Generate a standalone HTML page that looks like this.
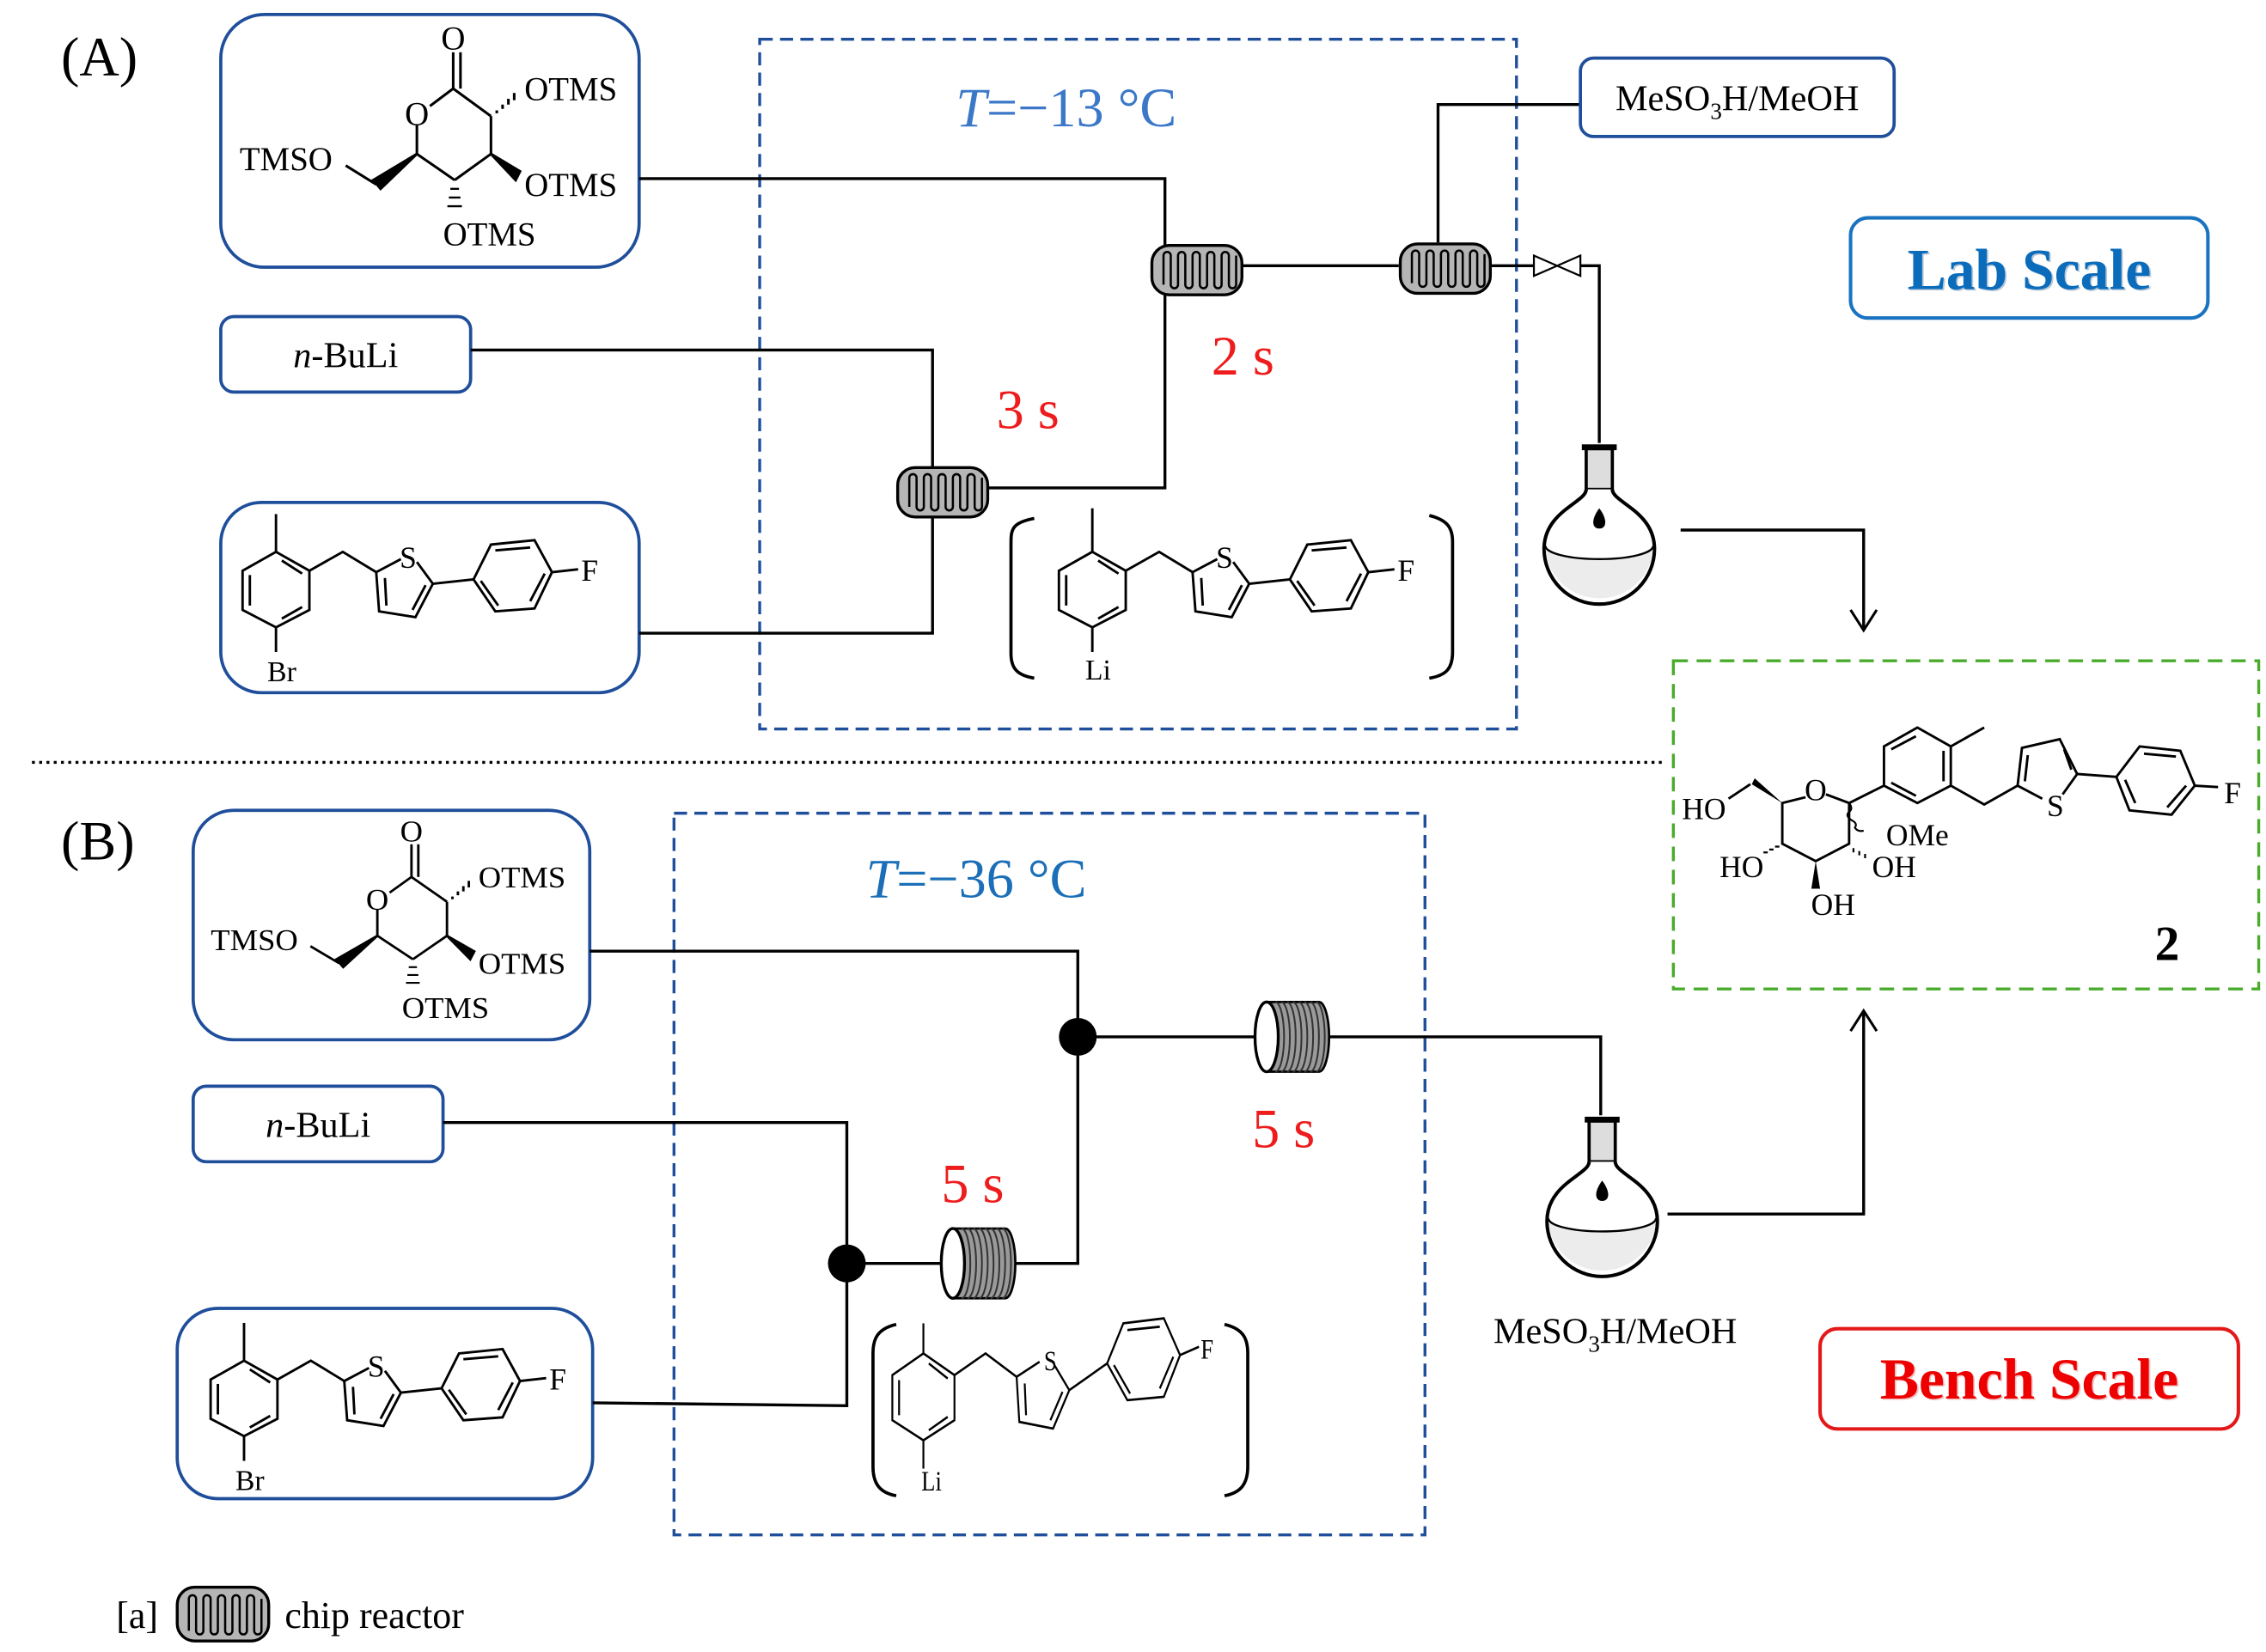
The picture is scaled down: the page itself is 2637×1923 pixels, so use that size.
<!DOCTYPE html>
<html><head><meta charset="utf-8"><style>
html,body{margin:0;padding:0;background:#fff}
svg{display:block}
text{font-family:"Liberation Serif",serif}
</style></head><body>
<svg width="2637" height="1923" viewBox="0 0 1560 1137.6" xmlns="http://www.w3.org/2000/svg">
<rect width="1560" height="1138" fill="#fff"/>

<text x="42" y="52" font-size="38">(A)</text>
<rect x="523" y="27" width="521" height="475" fill="none" stroke="#1f4e9b" stroke-width="2" stroke-dasharray="9 5"/>
<text x="658" y="87" font-size="38" fill="#3b78c8"><tspan font-style="italic">T</tspan>=−13 °C</text>

<rect x="152" y="10" width="288" height="174" rx="30" fill="none" stroke="#1f4e9b" stroke-width="2.2"/>
<g stroke="#000" stroke-width="1.8" fill="none">
  <line x1="312" y1="61" x2="312" y2="36"/><line x1="317" y1="61" x2="317" y2="36"/>
  <line x1="312" y1="61" x2="296" y2="73"/>
  <line x1="312" y1="61" x2="338" y2="80"/>
  <line x1="338" y1="80" x2="338" y2="106"/>
  <line x1="338" y1="106" x2="313" y2="124"/>
  <line x1="313" y1="124" x2="287" y2="106"/>
  <line x1="287" y1="106" x2="287" y2="86"/>
  <line x1="259" y1="127" x2="238" y2="114"/>
  <polygon points="287,106 262,130 257,124" fill="#000"/>
  <polygon points="338,106 358,118 355,124" fill="#000"/>
  <path d="M342,78 v-2 M346,75 v-3 M350,72 v-4 M354,69 v-5" />
  <path d="M310,130 h6 M309,136 h8 M308,142 h10" stroke-width="1.4"/>
</g>
<g font-size="23">
<text x="312" y="34" text-anchor="middle">O</text>
<text x="287" y="86" text-anchor="middle">O</text>
<text x="165" y="117">TMSO</text>
<text x="361" y="69">OTMS</text>
<text x="361" y="135">OTMS</text>
<text x="305" y="169">OTMS</text>
</g>

<rect x="152" y="218" width="172" height="52" rx="9" fill="none" stroke="#1f4e9b" stroke-width="2.2"/>
<text x="238" y="253" font-size="25" text-anchor="middle"><tspan font-style="italic">n</tspan>-BuLi</text>

<rect x="152" y="346" width="288" height="131" rx="28" fill="none" stroke="#1f4e9b" stroke-width="2.2"/>
<g>
 <g stroke="#000" stroke-width="1.7" fill="none">
  <polygon points="190,380 213,393 213,420 190,432 167,420 167,393"/>
  <line x1="194" y1="386" x2="208" y2="395"/><line x1="208" y1="418" x2="194" y2="426"/><line x1="172" y1="396" x2="172" y2="417"/>
  <line x1="190" y1="380" x2="190" y2="354"/>
  <line x1="190" y1="432" x2="190" y2="449"/>
  <polyline points="213,393 236,380 259,394"/>
  <polyline points="276,385 259,394 261,421 286,425 298,402 287,387"/>
  <line x1="265" y1="398" x2="266" y2="417"/><line x1="284" y1="420" x2="293" y2="403"/>
  <polygon points="326,399 338,375 368,372 380,394 368,419 341,421"/>
  <line x1="341" y1="379" x2="365" y2="377"/><line x1="375" y1="395" x2="365" y2="414"/><line x1="331" y1="400" x2="343" y2="417"/>
  <line x1="298" y1="402" x2="326" y2="399"/>
  <line x1="380" y1="394" x2="398" y2="392"/>
 </g>
 <text x="281" y="391" font-size="21" text-anchor="middle">S</text>
 <text x="406" y="400" font-size="21" text-anchor="middle">F</text>
</g>
<text x="194" y="469" font-size="20" text-anchor="middle">Br</text>

<g stroke="#000" stroke-width="2" fill="none">
 <polyline points="440,123 802,123 802,170"/>
 <polyline points="324,241 642,241 642,322"/>
 <polyline points="440,436 642,436 642,356"/>
 <polyline points="680,336 802,336 802,202"/>
 <line x1="855" y1="183" x2="963" y2="183"/>
 <polyline points="990,167 990,72 1088,72"/>
 <line x1="1027" y1="183" x2="1056" y2="183"/>
 <polyline points="1088,183 1101,183 1101,305"/>
 <polyline points="1157,365 1283,365 1283,433"/>
 <polyline points="1274,420 1283,434 1292,420" stroke-width="1.8"/>
</g>
<g stroke="#000" stroke-width="1.3" fill="#fff">
 <polygon points="1056,176 1072,183 1056,190"/>
 <polygon points="1088,176 1072,183 1088,190"/>
</g>

<g transform="translate(618,322)">
 <rect x="0" y="0" width="62" height="34" rx="12" fill="#b5b5b5" stroke="#000" stroke-width="2"/>
 <path d="M8,27 v-20 a2.5,2.5 0 0 1 5,0 v20 a2.5,2.5 0 0 0 5,0 v-20 a2.5,2.5 0 0 1 5,0 v20 a2.5,2.5 0 0 0 5,0 v-20 a2.5,2.5 0 0 1 5,0 v20 a2.5,2.5 0 0 0 5,0 v-20 a2.5,2.5 0 0 1 5,0 v20 a2.5,2.5 0 0 0 5,0 v-20 a2.5,2.5 0 0 1 5,0 v20 a2.5,2.5 0 0 0 5,0 v-20" fill="none" stroke="#000" stroke-width="1.5"/>
</g>
<g transform="translate(793,169)">
 <rect x="0" y="0" width="62" height="34" rx="12" fill="#b5b5b5" stroke="#000" stroke-width="2"/>
 <path d="M8,27 v-20 a2.5,2.5 0 0 1 5,0 v20 a2.5,2.5 0 0 0 5,0 v-20 a2.5,2.5 0 0 1 5,0 v20 a2.5,2.5 0 0 0 5,0 v-20 a2.5,2.5 0 0 1 5,0 v20 a2.5,2.5 0 0 0 5,0 v-20 a2.5,2.5 0 0 1 5,0 v20 a2.5,2.5 0 0 0 5,0 v-20 a2.5,2.5 0 0 1 5,0 v20 a2.5,2.5 0 0 0 5,0 v-20" fill="none" stroke="#000" stroke-width="1.5"/>
</g>
<g transform="translate(964,168)">
 <rect x="0" y="0" width="62" height="34" rx="12" fill="#b5b5b5" stroke="#000" stroke-width="2"/>
 <path d="M8,27 v-20 a2.5,2.5 0 0 1 5,0 v20 a2.5,2.5 0 0 0 5,0 v-20 a2.5,2.5 0 0 1 5,0 v20 a2.5,2.5 0 0 0 5,0 v-20 a2.5,2.5 0 0 1 5,0 v20 a2.5,2.5 0 0 0 5,0 v-20 a2.5,2.5 0 0 1 5,0 v20 a2.5,2.5 0 0 0 5,0 v-20 a2.5,2.5 0 0 1 5,0 v20 a2.5,2.5 0 0 0 5,0 v-20" fill="none" stroke="#000" stroke-width="1.5"/>
</g>

<text x="686" y="295" font-size="38" fill="#ee1c1c">3 s</text>
<text x="834" y="258" font-size="38" fill="#ee1c1c">2 s</text>

<rect x="1088" y="40" width="216" height="54" rx="9" fill="none" stroke="#1f4e9b" stroke-width="2.2"/>
<text x="1196" y="76" font-size="25" text-anchor="middle">MeSO<tspan font-size="16" dy="6">3</tspan><tspan dy="-6">H/MeOH</tspan></text>

<rect x="1274" y="150" width="246" height="69" rx="12" fill="none" stroke="#1a73c0" stroke-width="2.4"/>
<text x="1398" y="200" font-size="40" font-weight="bold" fill="#b8c8d8" text-anchor="middle">Lab Scale</text>
<text x="1397" y="199" font-size="40" font-weight="bold" fill="#0b6cbb" text-anchor="middle">Lab Scale</text>

<g transform="translate(1101,370)">
 <rect x="-12" y="-64" width="24" height="4" fill="#000"/>
 <rect x="-9" y="-61" width="18" height="28" fill="#ddd" stroke="#000" stroke-width="2.2"/>
 <path d="M-9,-33 C-9,-24 -38,-18 -38,8 A38,38 0 0 0 38,8 C38,-18 9,-24 9,-33" fill="#fff" stroke="#000" stroke-width="2.4"/>
 <path d="M-37,6 A37,9 0 0 0 37,6 A37,36 0 0 1 -37,6Z" fill="#ececec"/>
 <path d="M-37,6 A37,9 0 0 0 37,6" fill="none" stroke="#000" stroke-width="1.4"/>
 <path d="M0,-20 C-6,-12 -5,-6 0,-6 C5,-6 6,-12 0,-20Z" fill="#000"/>
</g>

<g transform="translate(562,0)">
 <g stroke="#000" stroke-width="1.7" fill="none">
  <polygon points="190,380 213,393 213,420 190,432 167,420 167,393"/>
  <line x1="194" y1="386" x2="208" y2="395"/><line x1="208" y1="418" x2="194" y2="426"/><line x1="172" y1="396" x2="172" y2="417"/>
  <line x1="190" y1="380" x2="190" y2="350"/>
  <line x1="190" y1="432" x2="190" y2="449"/>
  <polyline points="213,393 236,380 259,394"/>
  <polyline points="276,385 259,394 261,421 286,425 298,402 287,387"/>
  <line x1="265" y1="398" x2="266" y2="417"/><line x1="284" y1="420" x2="293" y2="403"/>
  <polygon points="326,399 338,375 368,372 380,394 368,419 341,421"/>
  <line x1="341" y1="379" x2="365" y2="377"/><line x1="375" y1="395" x2="365" y2="414"/><line x1="331" y1="400" x2="343" y2="417"/>
  <line x1="298" y1="402" x2="326" y2="399"/>
  <line x1="380" y1="394" x2="398" y2="392"/>
 </g>
 <text x="281" y="391" font-size="21" text-anchor="middle">S</text>
 <text x="406" y="400" font-size="21" text-anchor="middle">F</text>
 <text x="194" y="468" font-size="20" text-anchor="middle">Li</text>
</g>
<path d="M712,357 C696,360 696,365 696,375 V450 C696,460 700,465 712,467" fill="none" stroke="#000" stroke-width="2.2"/>
<path d="M984,355 C996,358 1000,363 1000,373 V449 C1000,460 996,465 984,467" fill="none" stroke="#000" stroke-width="2.2"/>

<line x1="22" y1="525" x2="1145" y2="525" stroke="#000" stroke-width="2" stroke-dasharray="2 3"/>

<rect x="1152" y="455" width="403" height="226" fill="none" stroke="#4aab2c" stroke-width="2" stroke-dasharray="10 6"/>
<g stroke="#000" stroke-width="1.7" fill="none">
 <polyline points="1243,549 1227,553 1227,581 1250,593 1273,581 1273,553 1257,547"/>
 <line x1="1273" y1="553" x2="1297" y2="541"/>
 <polygon points="1297,541 1297,514 1320,501 1343,514 1343,541 1320,553"/>
 <line x1="1302" y1="516" x2="1319" y2="507"/><line x1="1338" y1="517" x2="1338" y2="538"/><line x1="1302" y1="539" x2="1319" y2="548"/>
 <line x1="1343" y1="514" x2="1366" y2="501"/>
 <polyline points="1343,541 1366,554 1389,541"/>
 <polyline points="1406,550 1389,541 1392,515 1418,509 1430,533 1420,547"/>
 <line x1="1396" y1="520" x2="1394" y2="538"/><line x1="1421" y1="516" x2="1426" y2="530"/>
 <line x1="1430" y1="533" x2="1457" y2="535"/>
 <polygon points="1457,535 1473,514 1501,517 1511,541 1495,561 1466,558"/>
 <line x1="1476" y1="519" x2="1498" y2="521"/><line x1="1505" y1="541" x2="1492" y2="556"/><line x1="1463" y1="537" x2="1470" y2="553"/>
 <line x1="1511" y1="541" x2="1527" y2="542"/>
 <line x1="1205" y1="540" x2="1190" y2="550"/>
 <path d="M1273,553 q3,4 0,6 q-3,3 2,6 q4,2 2,5 q2,3 6,2" stroke-width="1.3"/>
 <path d="M1225,583 h-3 M1221,585 h-3 M1217,587 h-3" stroke-width="1.3"/>
 <path d="M1276,584 v3 M1280,586 v3 M1284,588 v3" stroke-width="1.3"/>
</g>
<polygon points="1227,553 1206,540 1208,536" fill="#000"/>
<polygon points="1250,593 1253,612 1247,612" fill="#000"/>
<g font-size="21">
 <text x="1250" y="551" text-anchor="middle">O</text>
 <text x="1173" y="564" text-anchor="middle">HO</text>
 <text x="1199" y="604" text-anchor="middle">HO</text>
 <text x="1304" y="604" text-anchor="middle">OH</text>
 <text x="1320" y="582" text-anchor="middle">OMe</text>
 <text x="1262" y="630" text-anchor="middle">OH</text>
 <text x="1415" y="562" text-anchor="middle">S</text>
 <text x="1537" y="553" text-anchor="middle">F</text>
</g>
<text x="1492" y="661" font-size="34" font-weight="bold" text-anchor="middle">2</text>

<text x="42" y="592" font-size="38">(B)</text>
<rect x="464" y="560" width="517" height="497" fill="none" stroke="#1f4e9b" stroke-width="2" stroke-dasharray="9 5"/>
<text x="596" y="618" font-size="38" fill="#1a6fb8"><tspan font-style="italic">T</tspan>=−36 °C</text>

<rect x="133" y="558" width="273" height="158" rx="28" fill="none" stroke="#1f4e9b" stroke-width="2.2"/>
<g transform="translate(-10,549) scale(0.94,0.9)">
<g stroke="#000" stroke-width="1.8" fill="none">
  <line x1="312" y1="61" x2="312" y2="36"/><line x1="317" y1="61" x2="317" y2="36"/>
  <line x1="312" y1="61" x2="296" y2="73"/>
  <line x1="312" y1="61" x2="338" y2="80"/>
  <line x1="338" y1="80" x2="338" y2="106"/>
  <line x1="338" y1="106" x2="313" y2="124"/>
  <line x1="313" y1="124" x2="287" y2="106"/>
  <line x1="287" y1="106" x2="287" y2="86"/>
  <line x1="259" y1="127" x2="238" y2="114"/>
  <polygon points="287,106 262,130 257,124" fill="#000"/>
  <polygon points="338,106 358,118 355,124" fill="#000"/>
  <path d="M342,78 v-2 M346,75 v-3 M350,72 v-4 M354,69 v-5" />
  <path d="M310,130 h6 M309,136 h8 M308,142 h10" stroke-width="1.4"/>
</g>
<g font-size="23">
<text x="312" y="34" text-anchor="middle">O</text>
<text x="287" y="86" text-anchor="middle">O</text>
<text x="165" y="117">TMSO</text>
<text x="361" y="69">OTMS</text>
<text x="361" y="135">OTMS</text>
<text x="305" y="169">OTMS</text>
</g>
</g>

<rect x="133" y="748" width="172" height="52" rx="9" fill="none" stroke="#1f4e9b" stroke-width="2.2"/>
<text x="219" y="783" font-size="25" text-anchor="middle"><tspan font-style="italic">n</tspan>-BuLi</text>

<rect x="122" y="901" width="286" height="131" rx="28" fill="none" stroke="#1f4e9b" stroke-width="2.2"/>
<g transform="translate(-22,557)">
 <g stroke="#000" stroke-width="1.7" fill="none">
  <polygon points="190,380 213,393 213,420 190,432 167,420 167,393"/>
  <line x1="194" y1="386" x2="208" y2="395"/><line x1="208" y1="418" x2="194" y2="426"/><line x1="172" y1="396" x2="172" y2="417"/>
  <line x1="190" y1="380" x2="190" y2="354"/>
  <line x1="190" y1="432" x2="190" y2="449"/>
  <polyline points="213,393 236,380 259,394"/>
  <polyline points="276,385 259,394 261,421 286,425 298,402 287,387"/>
  <line x1="265" y1="398" x2="266" y2="417"/><line x1="284" y1="420" x2="293" y2="403"/>
  <polygon points="326,399 338,375 368,372 380,394 368,419 341,421"/>
  <line x1="341" y1="379" x2="365" y2="377"/><line x1="375" y1="395" x2="365" y2="414"/><line x1="331" y1="400" x2="343" y2="417"/>
  <line x1="298" y1="402" x2="326" y2="399"/>
  <line x1="380" y1="394" x2="398" y2="392"/>
 </g>
 <text x="281" y="391" font-size="21" text-anchor="middle">S</text>
 <text x="406" y="400" font-size="21" text-anchor="middle">F</text>
 <text x="194" y="469" font-size="20" text-anchor="middle">Br</text>
</g>

<g stroke="#000" stroke-width="2" fill="none">
 <polyline points="406,655 742,655 742,714"/>
 <line x1="742" y1="714" x2="866" y2="714"/>
 <polyline points="914,714 1102,714 1102,768"/>
 <polyline points="305,773 583,773 583,870"/>
 <polyline points="408,966 583,968 583,870"/>
 <line x1="583" y1="870" x2="650" y2="870"/>
 <polyline points="698,870 742,870 742,714"/>
 <polyline points="1148,836 1283,836 1283,697"/>
 <polyline points="1274,710 1283,696 1292,710" stroke-width="1.8"/>
</g>
<ellipse cx="742" cy="714" rx="13" ry="13" fill="#000"/>
<ellipse cx="583" cy="870" rx="13" ry="13" fill="#000"/>

<g transform="translate(864,714)">
 <path d="M8,-24 H44 A7,24 0 0 1 44,24 H8 Z" fill="#9a9a9a" stroke="#000" stroke-width="1.6"/>
 <g stroke="#333" stroke-width="1.2">
  <path d="M14,-24 a6,24 0 0 1 0,48 M18,-24 a6,24 0 0 1 0,48 M22,-24 a6,24 0 0 1 0,48 M26,-24 a6,24 0 0 1 0,48 M30,-24 a6,24 0 0 1 0,48 M34,-24 a6,24 0 0 1 0,48 M38,-24 a6,24 0 0 1 0,48 M42,-24 a6,24 0 0 1 0,48" fill="none"/>
 </g>
 <ellipse cx="8" cy="0" rx="8" ry="24" fill="#fff" stroke="#000" stroke-width="2"/>
</g>
<g transform="translate(648,870)">
 <path d="M8,-24 H44 A7,24 0 0 1 44,24 H8 Z" fill="#9a9a9a" stroke="#000" stroke-width="1.6"/>
 <g stroke="#333" stroke-width="1.2">
  <path d="M14,-24 a6,24 0 0 1 0,48 M18,-24 a6,24 0 0 1 0,48 M22,-24 a6,24 0 0 1 0,48 M26,-24 a6,24 0 0 1 0,48 M30,-24 a6,24 0 0 1 0,48 M34,-24 a6,24 0 0 1 0,48 M38,-24 a6,24 0 0 1 0,48 M42,-24 a6,24 0 0 1 0,48" fill="none"/>
 </g>
 <ellipse cx="8" cy="0" rx="8" ry="24" fill="#fff" stroke="#000" stroke-width="2"/>
</g>

<text x="648" y="828" font-size="38" fill="#ee1c1c">5 s</text>
<text x="862" y="790" font-size="38" fill="#ee1c1c">5 s</text>

<g transform="translate(459,495) scale(0.93,1.15)">
 <g stroke="#000" stroke-width="1.4" fill="none">
  <polygon points="190,380 213,393 213,420 190,432 167,420 167,393"/>
  <line x1="194" y1="386" x2="208" y2="395"/><line x1="208" y1="418" x2="194" y2="426"/><line x1="172" y1="396" x2="172" y2="417"/>
  <line x1="190" y1="380" x2="190" y2="362"/>
  <line x1="190" y1="432" x2="190" y2="449"/>
  <polyline points="213,393 236,380 259,394"/>
  <polyline points="276,385 259,394 261,421 286,425 298,402 287,387"/>
  <line x1="265" y1="398" x2="266" y2="417"/><line x1="284" y1="420" x2="293" y2="403"/>
  <polygon points="326,386 338,362 368,359 380,381 368,406 341,408"/>
  <line x1="341" y1="366" x2="365" y2="364"/><line x1="375" y1="382" x2="365" y2="401"/><line x1="331" y1="387" x2="343" y2="404"/>
  <line x1="298" y1="402" x2="326" y2="386"/>
  <line x1="380" y1="381" x2="394" y2="376"/>
 </g>
 <text x="284" y="390" font-size="17" text-anchor="middle">S</text>
 <text x="400" y="383" font-size="17" text-anchor="middle">F</text>
 <text x="196" y="462" font-size="17" text-anchor="middle">Li</text>
</g>
<path d="M617,912 C604,915 601,922 601,932 V1010 C601,1022 606,1028 617,1030" fill="none" stroke="#000" stroke-width="2.2"/>
<path d="M843,912 C856,915 859,922 859,932 V1010 C859,1022 854,1028 843,1030" fill="none" stroke="#000" stroke-width="2.2"/>

<g transform="translate(1103,833)">
 <rect x="-12" y="-64" width="24" height="4" fill="#000"/>
 <rect x="-9" y="-61" width="18" height="28" fill="#ddd" stroke="#000" stroke-width="2.2"/>
 <path d="M-9,-33 C-9,-24 -38,-18 -38,8 A38,38 0 0 0 38,8 C38,-18 9,-24 9,-33" fill="#fff" stroke="#000" stroke-width="2.4"/>
 <path d="M-37,6 A37,9 0 0 0 37,6 A37,36 0 0 1 -37,6Z" fill="#ececec"/>
 <path d="M-37,6 A37,9 0 0 0 37,6" fill="none" stroke="#000" stroke-width="1.4"/>
 <path d="M0,-20 C-6,-12 -5,-6 0,-6 C5,-6 6,-12 0,-20Z" fill="#000"/>
</g>
<text x="1112" y="925" font-size="25" text-anchor="middle">MeSO<tspan font-size="16" dy="6">3</tspan><tspan dy="-6">H/MeOH</tspan></text>

<rect x="1253" y="915" width="288" height="69" rx="12" fill="none" stroke="#e41818" stroke-width="2.4"/>
<text x="1398" y="964" font-size="40" font-weight="bold" fill="#f0c0c0" text-anchor="middle">Bench Scale</text>
<text x="1397" y="963" font-size="40" font-weight="bold" fill="#e00" text-anchor="middle">Bench Scale</text>

<text x="80" y="1121" font-size="26">[a]</text>
<g transform="translate(122,1093)">
 <rect x="0" y="0" width="63" height="37" rx="12" fill="#b5b5b5" stroke="#000" stroke-width="2"/>
 <path d="M8,30 v-22 a2.5,2.5 0 0 1 5,0 v22 a2.5,2.5 0 0 0 5,0 v-22 a2.5,2.5 0 0 1 5,0 v22 a2.5,2.5 0 0 0 5,0 v-22 a2.5,2.5 0 0 1 5,0 v22 a2.5,2.5 0 0 0 5,0 v-22 a2.5,2.5 0 0 1 5,0 v22 a2.5,2.5 0 0 0 5,0 v-22 a2.5,2.5 0 0 1 5,0 v22 a2.5,2.5 0 0 0 5,0 v-22" fill="none" stroke="#000" stroke-width="1.5"/>
</g>
<text x="196" y="1121" font-size="26">chip reactor</text>
</svg>
</body></html>
